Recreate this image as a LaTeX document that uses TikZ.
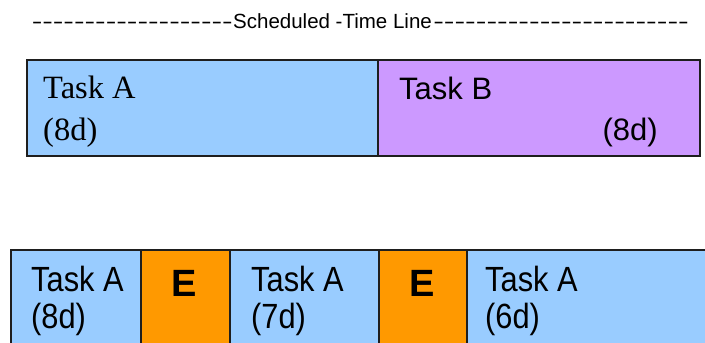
\documentclass[tikz,border=0pt]{standalone}
\usepackage{fontspec}
\setmainfont{Liberation Serif}
\setsansfont{Liberation Sans}
\newfontfamily\narrowsans[FakeStretch=0.88]{Liberation Sans}
\definecolor{taskblue}{HTML}{99CCFF}
\definecolor{taskpurple}{HTML}{CC99FF}
\definecolor{extraorange}{HTML}{FF9900}
\definecolor{edge}{HTML}{1E1E1E}
% a run of separate hyphens (no dash ligatures)
\newcommand\hyrun[1]{\foreach\k in {1,...,#1}{-}}
\tikzset{
  bar/.style={draw=edge, line width=1.6pt, inner sep=0pt, anchor=north west},
  seriflabel/.style={inner sep=0pt, anchor=base west, font=\fontsize{32.5}{36}\selectfont},
  sanslabel/.style={inner sep=0pt, anchor=base west, font=\sffamily\fontsize{31}{34}\selectfont},
  narrowlabel/.style={inner sep=0pt, anchor=base west, font=\narrowsans\fontsize{35}{38}\selectfont},
  extralabel/.style={inner sep=0pt, anchor=base, font=\sffamily\bfseries\fontsize{38}{40}\selectfont},
  titlelabel/.style={inner sep=0pt, anchor=base west, font=\sffamily\fontsize{20.5}{22}\selectfont}
}
\begin{document}
\begin{tikzpicture}[x=1pt, y=-1pt]
  \clip (0,0) rectangle (705,343);
  \fill[white] (0,0) rectangle (705,343);

  % heading
  \node[titlelabel] (title) at (233,28) {Scheduled -Time Line};
  \node[titlelabel, anchor=base east] (dashL) at (title.base west)
    {\scalebox{1.55}[1]{\hyrun{19}}};
  \node[titlelabel] (dashR) at ([xshift=1pt]title.base east)
    {\scalebox{1.56}[1]{\hyrun{24}}};

  % scheduled plan
  \node[bar, fill=taskblue, minimum width=351pt, minimum height=96pt] (planA) at (26,59) {};
  \node[bar, fill=taskpurple, minimum width=322pt, minimum height=96pt] (planB) at (377,59) {};
  \node[seriflabel] (planAname) at (43,98) {Task A};
  \node[seriflabel] (planAdur) at (43,140) {(8d)};
  \node[sanslabel] (planBname) at (399,99) {Task B};
  \node[sanslabel, anchor=base east] (planBdur) at (658,140) {(8d)};

  % actual run with interruptions
  \node[bar, fill=taskblue, minimum width=130pt, minimum height=120pt] (run1) at (10,249) {};
  \node[bar, fill=extraorange, minimum width=89pt, minimum height=120pt] (ext1) at (140,249) {};
  \node[bar, fill=taskblue, minimum width=149pt, minimum height=120pt] (run2) at (229,249) {};
  \node[bar, fill=extraorange, minimum width=88pt, minimum height=120pt] (ext2) at (378,249) {};
  \node[bar, fill=taskblue, minimum width=260pt, minimum height=120pt] (run3) at (466,249) {};

  \node[narrowlabel] (run1name) at (31,291) {Task A};
  \node[narrowlabel] (run1dur) at (31,328) {(8d)};
  \node[extralabel] (ext1name) at (184.5,296) {E};
  \node[narrowlabel] (run2name) at (251,291) {Task A};
  \node[narrowlabel] (run2dur) at (251,328) {(7d)};
  \node[extralabel] (ext2name) at (422.5,296) {E};
  \node[narrowlabel] (run3name) at (485,291) {Task A};
  \node[narrowlabel] (run3dur) at (485,328) {(6d)};
\end{tikzpicture}
\end{document}
